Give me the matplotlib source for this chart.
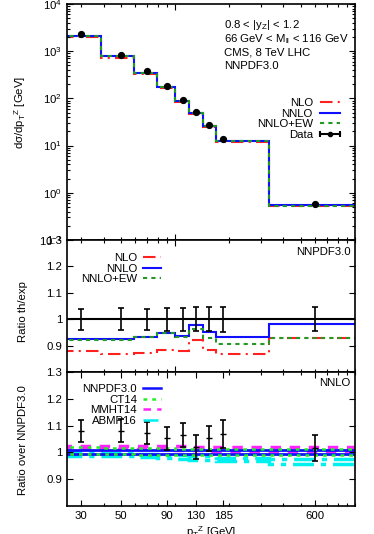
import numpy as np
import matplotlib
matplotlib.use("Agg")
import matplotlib.pyplot as plt
from matplotlib.lines import Line2D
from matplotlib.legend_handler import HandlerLine2D
from matplotlib.ticker import FixedLocator, NullFormatter, LogLocator, FixedFormatter

plt.rcParams['font.family'] = ['Liberation Sans', 'DejaVu Sans']
plt.rcParams['mathtext.default'] = 'regular'
plt.rcParams['font.size'] = 8.2

# ---------------------------------------------------------------
# data
pt_centers = [30, 50, 70, 90, 110, 130, 155, 185, 600]
xtick_pos = [30, 50, 90, 130, 185, 600]
xtick_labels = ['30', '50', '90', '130', '185', '600']

# top panel: CMS data [GeV]
data_xsec = [2300, 840, 373, 184, 94, 51, 27.5, 13.5, 0.566]
data_rel_err = [0.040, 0.041, 0.040, 0.043, 0.043, 0.045, 0.046, 0.048, 0.046]

# middle panel: theory / data
ratio_nlo = [0.880, 0.868, 0.872, 0.884, 0.880, 0.920, 0.884, 0.870, 0.927]
ratio_nnlo = [0.9235, 0.9235, 0.933, 0.949, 0.937, 0.979, 0.951, 0.933, 0.983]
ratio_nnlo_ew = [0.9225, 0.9225, 0.932, 0.947, 0.932, 0.964, 0.930, 0.905, 0.927]

# bottom panel: ratio over NNPDF3.0
bot_data = [1.080, 1.080, 1.072, 1.053, 1.065, 1.021, 1.053, 1.070, 1.016]
bot_err = [0.041, 0.043, 0.041, 0.043, 0.044, 0.044, 0.046, 0.052, 0.048]
nnpdf_up = [1.008, 1.008, 1.008, 1.008, 1.008, 1.008, 1.008, 1.008, 1.008]
nnpdf_lo = [0.995, 0.995, 0.995, 0.995, 0.995, 0.995, 0.995, 0.995, 0.995]
ct14_up = [1.020, 1.018, 1.016, 1.015, 1.014, 1.013, 1.012, 1.012, 1.012]
ct14_lo = [0.993, 0.993, 0.992, 0.992, 0.991, 0.991, 0.990, 0.990, 0.990]
mmht_up = [1.025, 1.024, 1.024, 1.023, 1.023, 1.022, 1.022, 1.021, 1.021]
mmht_lo = [1.015, 1.014, 1.013, 1.012, 1.010, 1.008, 1.007, 1.006, 1.006]
abmp_up = [1.000, 0.999, 0.995, 0.992, 0.990, 0.988, 0.985, 0.980, 0.975]
abmp_lo = [0.987, 0.985, 0.983, 0.980, 0.977, 0.973, 0.970, 0.967, 0.957]

# ---------------------------------------------------------------
c = np.array(pt_centers, dtype=float)
# histeps style: step half way (in log) between the points
edges = np.concatenate([[c[0] ** 2 / np.sqrt(c[0] * c[1])],
                        np.sqrt(c[:-1] * c[1:]),
                        [c[-1] ** 2 / np.sqrt(c[-2] * c[-1])]])

xsec = np.array(data_xsec)
th_nlo = xsec * np.array(ratio_nlo)
th_nnlo = xsec * np.array(ratio_nnlo)
th_nnlo_ew = xsec * np.array(ratio_nnlo_ew)

red = '#ff2020'
blue = '#1010ff'
dgreen = '#229922'
lgreen = '#22ee22'
magenta = '#ff22ff'
cyan = '#00f0f0'
nlo_ls = (0, (6, 2.5, 1, 2.5))
ew_ls = (0, (2, 2))

fig = plt.figure(figsize=(3.74, 5.34), dpi=100)
left, width = 0.179, 0.77
ax1 = fig.add_axes([left, 0.5506, width, 0.442])
ax2 = fig.add_axes([left, 0.3034, width, 0.247])
ax3 = fig.add_axes([left, 0.0524, width, 0.251])

# ---- top panel
ax1.stairs(th_nlo, edges, baseline=None, color=red, lw=1.5, ls=nlo_ls)
ax1.stairs(th_nnlo, edges, baseline=None, color=blue, lw=1.5)
ax1.stairs(th_nnlo_ew, edges, baseline=None, color=dgreen, lw=1.5, ls=ew_ls)
ax1.errorbar(pt_centers, data_xsec, yerr=xsec * np.array(data_rel_err), fmt='o',
             color='k', ms=4.2, capsize=1.5, lw=1)
ax1.set_yscale('log')
ax1.set_ylim(0.1, 1e4)
ax1.set_ylabel(r'd$\sigma$/dp$_T$$^Z$ [GeV]')
ax1.yaxis.set_label_coords(-0.135, 0.54)

h_nlo = Line2D([], [], color=red, lw=1.5, ls=nlo_ls)
h_nnlo = Line2D([], [], color=blue, lw=1.5)
h_ew = Line2D([], [], color=dgreen, lw=1.5, ls=ew_ls)
h_bar = Line2D([], [], color='k', lw=1.5, marker='|', ms=5, mew=1.5)
h_dot = Line2D([], [], color='k', ls='none', marker='o', ms=3)
ax1.legend([h_nlo, h_nnlo, h_ew, (h_bar, h_dot)], ['NLO', 'NNLO', 'NNLO+EW', 'Data'],
           loc='upper right', bbox_to_anchor=(343 / 374, 1 - 98 / 534), bbox_transform=fig.transFigure,
           frameon=False, markerfirst=False, numpoints=2, handlelength=2.3,
           handletextpad=0.35, labelspacing=0.05, borderpad=0, borderaxespad=0,
           handler_map={h_dot: HandlerLine2D(numpoints=1)})

info = ['0.8 < |y$_Z$| < 1.2', '66 GeV < M$_{ll}$ < 116 GeV', 'CMS, 8 TeV LHC', 'NNPDF3.0']
for i, t in enumerate(info):
    fig.text(224 / 374, 1 - (25 + 13.7 * i) / 534, t, ha='left', va='center')

# ---- middle panel
ax2.axhline(1.0, color='k', lw=1.5)
ax2.stairs(ratio_nlo, edges, baseline=None, color=red, lw=1.5, ls=nlo_ls)
ax2.stairs(ratio_nnlo, edges, baseline=None, color=blue, lw=1.5)
ax2.stairs(ratio_nnlo_ew, edges, baseline=None, color=dgreen, lw=1.5, ls=ew_ls)
ax2.errorbar(pt_centers, np.ones(len(pt_centers)), yerr=data_rel_err, fmt='none',
             ecolor='k', capsize=2.5, lw=1.2, capthick=1.2)
ax2.set_ylim(0.8, 1.3)
ax2.set_ylabel('Ratio th/exp')
ax2.yaxis.set_label_coords(-0.135, 0.46)
ax2.legend([h_nlo, h_nnlo, h_ew], ['NLO', 'NNLO', 'NNLO+EW'],
           loc='upper right', bbox_to_anchor=(161 / 374, 1 - 253 / 534), bbox_transform=fig.transFigure,
           frameon=False, markerfirst=False, handlelength=1.6, handletextpad=0.5,
           labelspacing=0.05, borderpad=0, borderaxespad=0)
ax2.text(0.985, 0.91, 'NNPDF3.0', transform=ax2.transAxes, ha='right', va='center')

# ---- bottom panel
ax3.stairs(abmp_up, edges, baseline=None, color=cyan, lw=2.5, ls=(0, (6, 2, 1.5, 2)))
ax3.stairs(abmp_lo, edges, baseline=None, color=cyan, lw=2.5, ls=(0, (6, 2, 1.5, 2)))
ax3.stairs(mmht_up, edges, baseline=None, color=magenta, lw=2.5, ls=(0, (3, 2.5)))
ax3.stairs(mmht_lo, edges, baseline=None, color=magenta, lw=2.5, ls=(0, (3, 2.5)))
ax3.stairs(nnpdf_up, edges, baseline=None, color=blue, lw=2.0)
ax3.stairs(nnpdf_lo, edges, baseline=None, color=blue, lw=2.0)
ax3.stairs(ct14_up, edges, baseline=None, color=lgreen, lw=1.8, ls=(0, (1.5, 2)))
ax3.stairs(ct14_lo, edges, baseline=None, color=lgreen, lw=1.8, ls=(0, (1.5, 2)))
ax3.errorbar(pt_centers, bot_data, yerr=bot_err, fmt='_', color='k', ms=4,
             capsize=2.5, lw=1.2, capthick=1.2)
ax3.set_ylim(0.8, 1.3)
ax3.set_ylabel('Ratio over NNPDF3.0')
ax3.yaxis.set_label_coords(-0.135, 0.49)
ax3.set_xlabel(r'p$_T$$^Z$ [GeV]', labelpad=2.5)
hb = [Line2D([], [], color=blue, lw=1.8),
      Line2D([], [], color=lgreen, lw=1.8, ls=(0, (1.5, 2))),
      Line2D([], [], color=magenta, lw=1.8, ls=(0, (3, 2.5))),
      Line2D([], [], color=cyan, lw=1.8, ls=(0, (6, 2, 1.5, 2)))]
ax3.legend(hb, ['NNPDF3.0', 'CT14', 'MMHT14', 'ABMP16'],
           loc='upper right', bbox_to_anchor=(161 / 374, 1 - 384 / 534), bbox_transform=fig.transFigure,
           frameon=False, markerfirst=False, handlelength=1.6, handletextpad=0.5,
           labelspacing=0.05, borderpad=0, borderaxespad=0)
ax3.text(0.985, 0.92, 'NNLO', transform=ax3.transAxes, ha='right', va='center')

# ---- axes cosmetics
for ax in [ax1, ax2, ax3]:
    ax.set_xscale('log')
    ax.set_xlim(25, 1000)
    ax.xaxis.set_minor_locator(LogLocator(base=10, subs=np.arange(1, 10)))
    ax.xaxis.set_minor_formatter(NullFormatter())
    ax.tick_params(which='both', direction='in', top=True, right=True, width=0.8)
    ax.tick_params(which='major', length=4.5)
    ax.tick_params(which='minor', length=2.5)
    for s in ax.spines.values():
        s.set_linewidth(1.2)

ax1.xaxis.set_major_locator(FixedLocator([100]))
ax1.xaxis.set_major_formatter(NullFormatter())
ax2.xaxis.set_major_locator(FixedLocator([100]))
ax2.xaxis.set_major_formatter(NullFormatter())
ax3.xaxis.set_major_locator(FixedLocator(xtick_pos))
ax3.xaxis.set_major_formatter(FixedFormatter(xtick_labels))

for ax in [ax2, ax3]:
    ax.yaxis.set_major_locator(FixedLocator([0.9, 1.0, 1.1, 1.2, 1.3]))
    ax.yaxis.set_major_formatter(FixedFormatter(['0.9', '1', '1.1', '1.2', '1.3']))

fig.savefig('out.png', dpi=100)
